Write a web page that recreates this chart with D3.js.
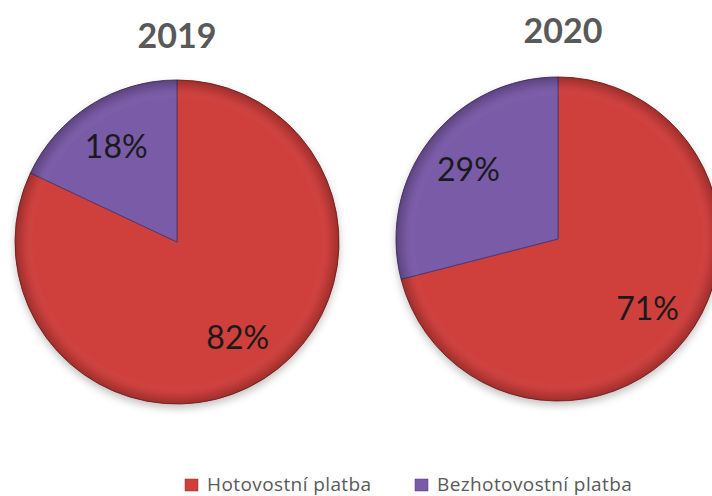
<!DOCTYPE html>
<html><head><meta charset="utf-8">
<script src="https://cdn.jsdelivr.net/npm/d3@7"></script>
<style>body{margin:0;background:#fff}svg{display:block}</style>
</head><body>
<svg id="c" width="712" height="496"></svg>
<script>
const categories = ["Hotovostní platba", "Bezhotovostní platba"];
const years = ["2019", "2020"];
const values2019 = [82, 18];
const values2020 = [71, 29];
const colors = ["#cf3f3c", "#7a5ba8"];
const strokeColors = ["#8e2a28", "#4f3a75"];

const svg = d3.select("#c");
const defs = svg.append("defs");
const shade = defs.append("radialGradient").attr("id","shade").attr("cx","50%").attr("cy","50%").attr("r","50%");
shade.append("stop").attr("offset","0%").attr("stop-color","#fff").attr("stop-opacity",0.0);
shade.append("stop").attr("offset","88%").attr("stop-color","#fff").attr("stop-opacity",0.0);
shade.append("stop").attr("offset","95%").attr("stop-color","#000").attr("stop-opacity",0.08);
shade.append("stop").attr("offset","100%").attr("stop-color","#000").attr("stop-opacity",0.25);
const blur = defs.append("filter").attr("id","sh").attr("x","-20%").attr("y","-20%").attr("width","140%").attr("height","140%");
blur.append("feGaussianBlur").attr("stdDeviation",4);

const pies = [
  {year: years[0], values: values2019, cx: 177, cy: 242, tx: 177, ty: 48},
  {year: years[1], values: values2020, cx: 558, cy: 239, tx: 563, ty: 43}
];
const r = 162;
const pie = d3.pie().sort(null).value(d => d);
const arc = d3.arc().innerRadius(0).outerRadius(r);
const labelArc = d3.arc().innerRadius(r*0.7).outerRadius(r*0.7);

pies.forEach(p => {
  const g = svg.append("g").attr("transform", `translate(${p.cx},${p.cy})`);
  g.append("circle").attr("r", r).attr("cy", 4).attr("fill", "#000").attr("opacity", 0.25).attr("filter","url(#sh)");
  const arcs = pie(p.values);
  g.selectAll("path.s").data(arcs).join("path").attr("class","s")
    .attr("d", arc).attr("fill", (d,i) => colors[i])
    .attr("stroke", (d,i) => strokeColors[i]).attr("stroke-width", 1);
  g.append("circle").attr("r", r).attr("fill", "url(#shade)");
  g.selectAll("text.l").data(arcs).join("text").attr("class","l")
    .attr("transform", d => `translate(${labelArc.centroid(d)})`)
    .attr("text-anchor","middle").attr("dy","0.36em")
    .style("font-family","Lato, 'Open Sans', sans-serif").style("font-size","32px")
    .attr("fill","#1a1a1a").text(d => d.data + "%");
  svg.append("text").attr("x", p.tx).attr("y", p.ty).attr("text-anchor","middle")
    .style("font-family","Lato, 'Open Sans', sans-serif").style("font-size","34px").style("font-weight","bold")
    .attr("fill","#595959").text(p.year);
});

const legendX = [185, 415];
const lg = svg.append("g");
categories.forEach((c,i) => {
  lg.append("rect").attr("x", legendX[i]).attr("y", 479).attr("width", 13).attr("height", 12)
    .attr("fill", colors[i]).attr("stroke", strokeColors[i]).attr("stroke-width", 0.5);
  lg.append("text").attr("x", legendX[i] + 22).attr("y", 491)
    .style("font-family","'Open Sans', sans-serif").style("font-size","19px")
    .style("letter-spacing","0.4px")
    .attr("fill","#595959").text(c);
});
</script>
</body></html>
